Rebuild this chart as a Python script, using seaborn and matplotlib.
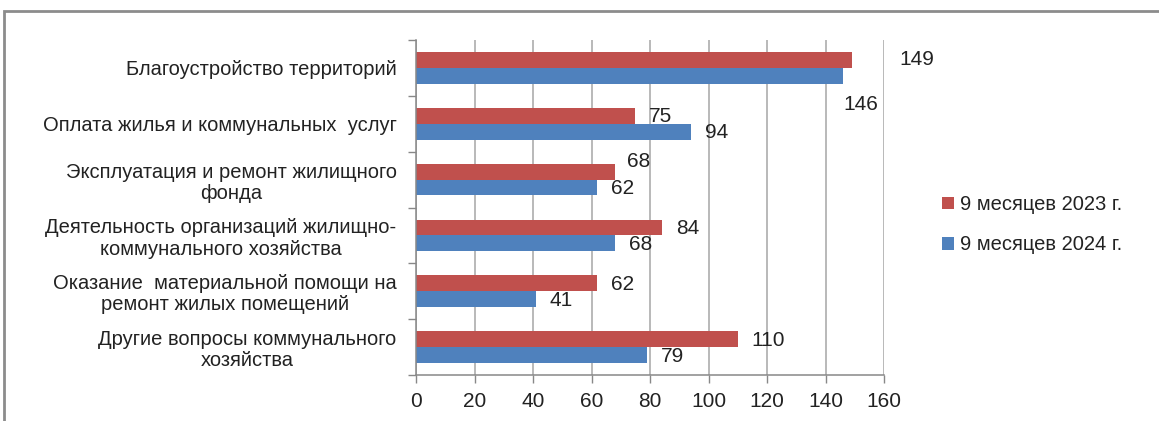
import numpy as np
import pandas as pd
import seaborn as sns
import matplotlib
matplotlib.use("Agg")
import matplotlib.pyplot as plt
from matplotlib.patches import Rectangle

sns.set_theme(style="white")
plt.rcParams['font.family'] = ['Liberation Sans', 'DejaVu Sans']

categories = [
    'Благоустройство территорий',
    'Оплата жилья и коммунальных  услуг',
    'Эксплуатация и ремонт жилищного\nфонда',
    'Деятельность организаций жилищно-\nкоммунального хозяйства',
    'Оказание  материальной помощи на\nремонт жилых помещений',
    'Другие вопросы коммунального\nхозяйства',
]
series = ['9 месяцев 2023 г.', '9 месяцев 2024 г.']
values_2023 = [149, 75, 68, 84, 62, 110]
values_2024 = [146, 94, 62, 68, 41, 79]
x_ticks = [0, 20, 40, 60, 80, 100, 120, 140, 160]

_COLORS = ['#C0504D', '#4F81BD']

df = pd.DataFrame({
    'cat': categories * 2,
    'period': [series[0]] * len(categories) + [series[1]] * len(categories),
    'value': values_2023 + values_2024,
})

fig = plt.figure(figsize=(11.59, 4.21), dpi=100)
ax = fig.add_axes([416 / 1159, 1 - 375 / 421, 468 / 1159, 335 / 421])

sns.barplot(data=df, y='cat', x='value', hue='period', orient='h',
            palette=_COLORS, saturation=1, width=0.57, dodge=True, ax=ax,
            edgecolor='none', errorbar=None)

ax.set_xlim(0, 160)
ax.set_ylim(len(categories) - 0.5, -0.5)
ax.set_xticks(x_ticks)
ax.set_xticklabels([str(t) for t in x_ticks], fontsize=15, color='#222222')
ax.set_xlabel(None)
ax.set_ylabel(None)

# category labels, centred text block
ax.set_yticks(range(len(categories)))
ax.set_yticklabels(categories, fontsize=14.5, color='#222222',
                   multialignment='center', linespacing=1.15)
ax.tick_params(axis='y', which='major', length=0, pad=14)
ax.set_yticks(np.arange(-0.5, len(categories) + 0.5, 1), minor=True)
ax.tick_params(axis='y', which='minor', left=True, length=6, color='#888888', width=1)
ax.tick_params(axis='x', length=6, color='#888888', width=1, direction='out', pad=6,
               bottom=True)

ax.grid(True, axis='x', color='#a6a6a6', linewidth=1.1)
ax.set_axisbelow(True)
for s in ['top', 'right']:
    ax.spines[s].set_visible(False)
for s in ['left', 'bottom']:
    ax.spines[s].set_color('#888888')
    ax.spines[s].set_linewidth(1.1)

# value labels (offsets in pixels, as placed in the source)
off = 0.1435
label_offsets = {
    (0, 0): (48, 0), (0, 1): (0, -29),
    (2, 0): (12, 10),
}
for j, vals in enumerate([values_2023, values_2024]):
    for i, v in enumerate(vals):
        y = i - off if j == 0 else i + off
        dx, dy = label_offsets.get((i, j), (14, -1))
        ax.annotate(str(v), xy=(v, y), xytext=(dx * 0.72, dy * 0.72),
                    textcoords='offset points', ha='left', va='center',
                    fontsize=15, color='#222222', annotation_clip=False)

leg = ax.legend(loc='upper left', bbox_to_anchor=(924 / 1159, 1 - 177 / 421),
                bbox_transform=fig.transFigure, frameon=False, fontsize=14.5,
                handlelength=0.6, handleheight=0.6, handletextpad=0.3,
                labelspacing=1.05)
for t in leg.get_texts():
    t.set_color('#222222')

# outer frame of the chart area
fig.patches.append(Rectangle((4 / 1159, -0.02), 1.1, 1 - 11 / 421 + 0.02,
                             transform=fig.transFigure, fill=False,
                             edgecolor='#8c8c8c', linewidth=2))

fig.savefig('out.png', dpi=100)
